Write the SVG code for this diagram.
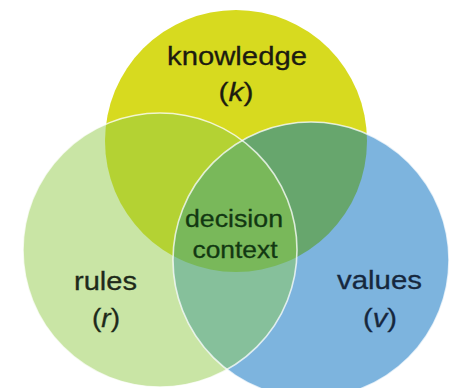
<svg xmlns="http://www.w3.org/2000/svg" width="450" height="388" viewBox="0 0 450 388">
  <style>
    .lbl { font-family: "Liberation Sans", Arial, sans-serif; font-size: 25.5px; text-anchor: middle; stroke-width: 0.3; }
    .mid { font-size: 23px; fill: #123812; stroke: #123812; }
    .k { fill: #1c1c10; stroke: #1c1c10; }
    .r { fill: #1e2a1a; stroke: #1e2a1a; }
    .v { fill: #16283e; stroke: #16283e; }
    .edge { fill: none; stroke: #ffffff; stroke-opacity: 0.75; stroke-width: 1.6; }
  </style>
  <defs>
    <clipPath id="cTop"><circle cx="236" cy="141" r="131"/></clipPath>
    <clipPath id="cLeft"><circle cx="160" cy="250" r="137"/></clipPath>
    <clipPath id="cRight"><circle cx="311" cy="260" r="138"/></clipPath>
  </defs>
  <rect width="450" height="388" fill="#ffffff"/>

  <g id="knowledge">
    <circle cx="236" cy="141" r="131" fill="#d7da1f"/>
  </g>
  <g id="rules">
    <circle cx="160" cy="250" r="137" fill="#c9e5a5"/>
  </g>
  <g id="values">
    <circle cx="311" cy="260" r="138" fill="#7db4de"/>
  </g>

  <g id="overlaps">
    <g clip-path="url(#cTop)">
      <circle cx="160" cy="250" r="137" fill="#b4d233"/>
      <circle cx="311" cy="260" r="138" fill="#67a66d"/>
    </g>
    <g clip-path="url(#cLeft)">
      <circle cx="311" cy="260" r="138" fill="#86c09b"/>
    </g>
    <g id="decision-context" clip-path="url(#cLeft)">
      <g clip-path="url(#cRight)">
        <circle cx="236" cy="141" r="131" fill="#79b85a"/>
      </g>
    </g>
  </g>

  <g id="edges">
    <circle class="edge" cx="160" cy="250" r="137"/>
    <circle class="edge" cx="311" cy="260" r="138"/>
  </g>

  <g id="labels">
    <text class="lbl k" x="237" y="65" textLength="140" lengthAdjust="spacingAndGlyphs">knowledge</text>
    <text class="lbl k" x="236" y="101" textLength="35" lengthAdjust="spacingAndGlyphs">(<tspan font-style="italic">k</tspan>)</text>
    <text class="lbl mid" x="234" y="227" textLength="98" lengthAdjust="spacingAndGlyphs">decision</text>
    <text class="lbl mid" x="235" y="258" textLength="85" lengthAdjust="spacingAndGlyphs">context</text>
    <text class="lbl r" x="105.5" y="290" textLength="63" lengthAdjust="spacingAndGlyphs">rules</text>
    <text class="lbl r" x="106" y="327" textLength="28" lengthAdjust="spacingAndGlyphs">(<tspan font-style="italic">r</tspan>)</text>
    <text class="lbl v" x="379.5" y="289" textLength="85" lengthAdjust="spacingAndGlyphs">values</text>
    <text class="lbl v" x="380" y="327" textLength="34" lengthAdjust="spacingAndGlyphs">(<tspan font-style="italic">v</tspan>)</text>
  </g>
</svg>
